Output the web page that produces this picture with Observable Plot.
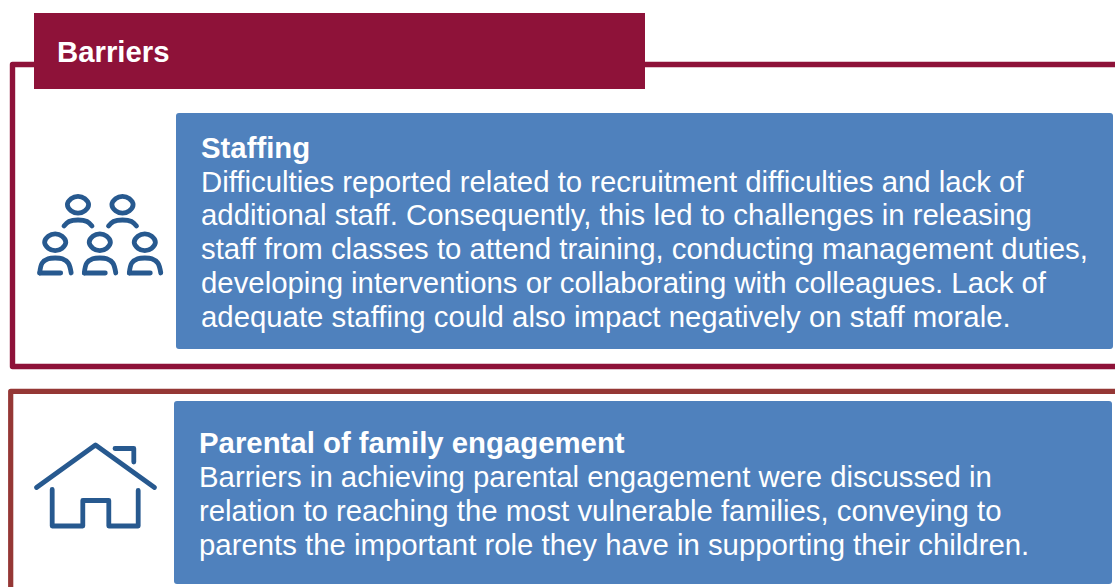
<!DOCTYPE html>
<html>
<head>
<meta charset="utf-8">
<script src="https://cdn.jsdelivr.net/npm/d3@7"></script>
<script src="https://cdn.jsdelivr.net/npm/@observablehq/plot@0.6"></script>
<style>html,body{margin:0;padding:0;background:#fff;overflow:hidden}svg{display:block}</style>
</head>
<body>
<div id="chart"></div>
<script>
const maroon = "#8e1239", brick = "#953735", blue = "#4f81bd", iconBlue = "#27598f";

const headerText = ["Barriers"];
const headerX = [56.5], headerY = [61];

const staffingTitle = "Staffing";
const staffingLines = [
  "Difficulties reported related to recruitment difficulties and lack of",
  "additional staff. Consequently, this led to challenges in releasing",
  "staff from classes to attend training, conducting management duties,",
  "developing interventions or collaborating with colleagues. Lack of",
  "adequate staffing could also impact negatively on staff morale."
];
const staffingBaselines = [191, 224.5, 258.5, 292, 326];

const familyTitle = "Parental of family engagement";
const familyLines = [
  "Barriers in achieving parental engagement were discussed in",
  "relation to reaching the most vulnerable families, conveying to",
  "parents the important role they have in supporting their children."
];
const familyBaselines = [486, 520, 554];

const boxes = [
  {x1: 176, x2: 1113, y1: 113, y2: 349},
  {x1: 174, x2: 1112, y1: 401, y2: 584}
];
const header = [{x1: 34, x2: 645, y1: 13, y2: 89}];

const frameOne = [[1125, 64], [12, 64], [12, 366], [1125, 366]];
const frameTwo = [[1125, 390.8], [10.2, 390.8], [10.2, 600]];

// Icon: people
const headXs = [77.5, 122, 54.7, 99.3, 144.3];
const headYs = [204.2, 204.2, 241.8, 241.8, 241.8];
const headShape = [[0,-8.4],[6.8,-6.1],[10.6,0],[6.8,6.1],[0,8.4],[-6.8,6.1],[-10.6,0],[-6.8,-6.1]];
const topBodyXs = [77.5, 122];
const topBodyShape = [[-14,6],[-9,1.5],[0,0],[9,1.5],[14,6]];
const topBodyY = 219.5;
const lowBodyXs = [54.7, 99.3, 144.3];
const lowBodyShape = [[5.5,15],[-15.5,15],[-13,5],[-7,0.8],[0,0],[7,0.8],[13,5],[16,15]];
const lowBodyY = 257.5;

// Icon: house
const roof = [[36,487],[95,444.5],[154,487]];
const chimney = [[114.5,448],[133.3,448],[133.3,461.5]];
const walls = [[51.7,489],[51.7,525.5],[82.3,525.5],[82.3,500],[108.3,500],[108.3,525.5],[137.7,525.5],[137.7,490]];

const iconLine = (pts, curve) => Plot.line(pts, {x: d => d[0], y: d => d[1], stroke: iconBlue, strokeWidth: 4.8, strokeLinecap: "round", strokeLinejoin: "round", curve: curve || "linear"});
const pathLine = (pts, color, w) => Plot.line(pts, {x: d => d[0], y: d => d[1], stroke: color, strokeWidth: w, strokeLinejoin: "round"});
const textRows = (lines, ys, x, weight) => Plot.text(lines.map((t, i) => ({t, y: ys[i], x})), {x: "x", y: "y", text: "t", textAnchor: "start", lineAnchor: "bottom", fill: "white", fontSize: 29.35, fontWeight: weight, fontFamily: "Liberation Sans, Arial, sans-serif"});

const marks = [
  pathLine(frameOne, maroon, 5.4),
  pathLine(frameTwo, brick, 5.2),
  Plot.rect(header, {x1: "x1", x2: "x2", y1: "y1", y2: "y2", fill: maroon}),
  Plot.rect(boxes, {x1: "x1", x2: "x2", y1: "y1", y2: "y2", fill: blue, r: 3}),
  textRows(headerText, headerY, headerX[0], "bold"),
  textRows([staffingTitle], [157], 200.5, "bold"),
  textRows(staffingLines, staffingBaselines, 200.5, "normal"),
  textRows([familyTitle], [452], 198.5, "bold"),
  textRows(familyLines, familyBaselines, 198.5, "normal"),
  iconLine(roof), iconLine(chimney), iconLine(walls)
];
headXs.forEach((hx, i) => marks.push(iconLine(headShape.map(([a, b]) => [hx + a, headYs[i] + b]), "catmull-rom-closed")));
topBodyXs.forEach(bx => marks.push(iconLine(topBodyShape.map(([a, b]) => [bx + a, topBodyY + b]), "catmull-rom")));
lowBodyXs.forEach(bx => {
  marks.push(iconLine(lowBodyShape.slice(0, 2).map(([a, b]) => [bx + a, lowBodyY + b])));
  marks.push(iconLine(lowBodyShape.slice(1).map(([a, b]) => [bx + a, lowBodyY + b]), "catmull-rom"));
});

const chart = Plot.plot({
  width: 1115, height: 587,
  marginTop: 0, marginRight: 0, marginBottom: 0, marginLeft: 0,
  x: {domain: [0, 1115], range: [0, 1115], axis: null},
  y: {domain: [0, 587], range: [0, 587], axis: null},
  style: {background: "white", overflow: "hidden"},
  marks
});
document.getElementById("chart").append(chart);
</script>
</body>
</html>
